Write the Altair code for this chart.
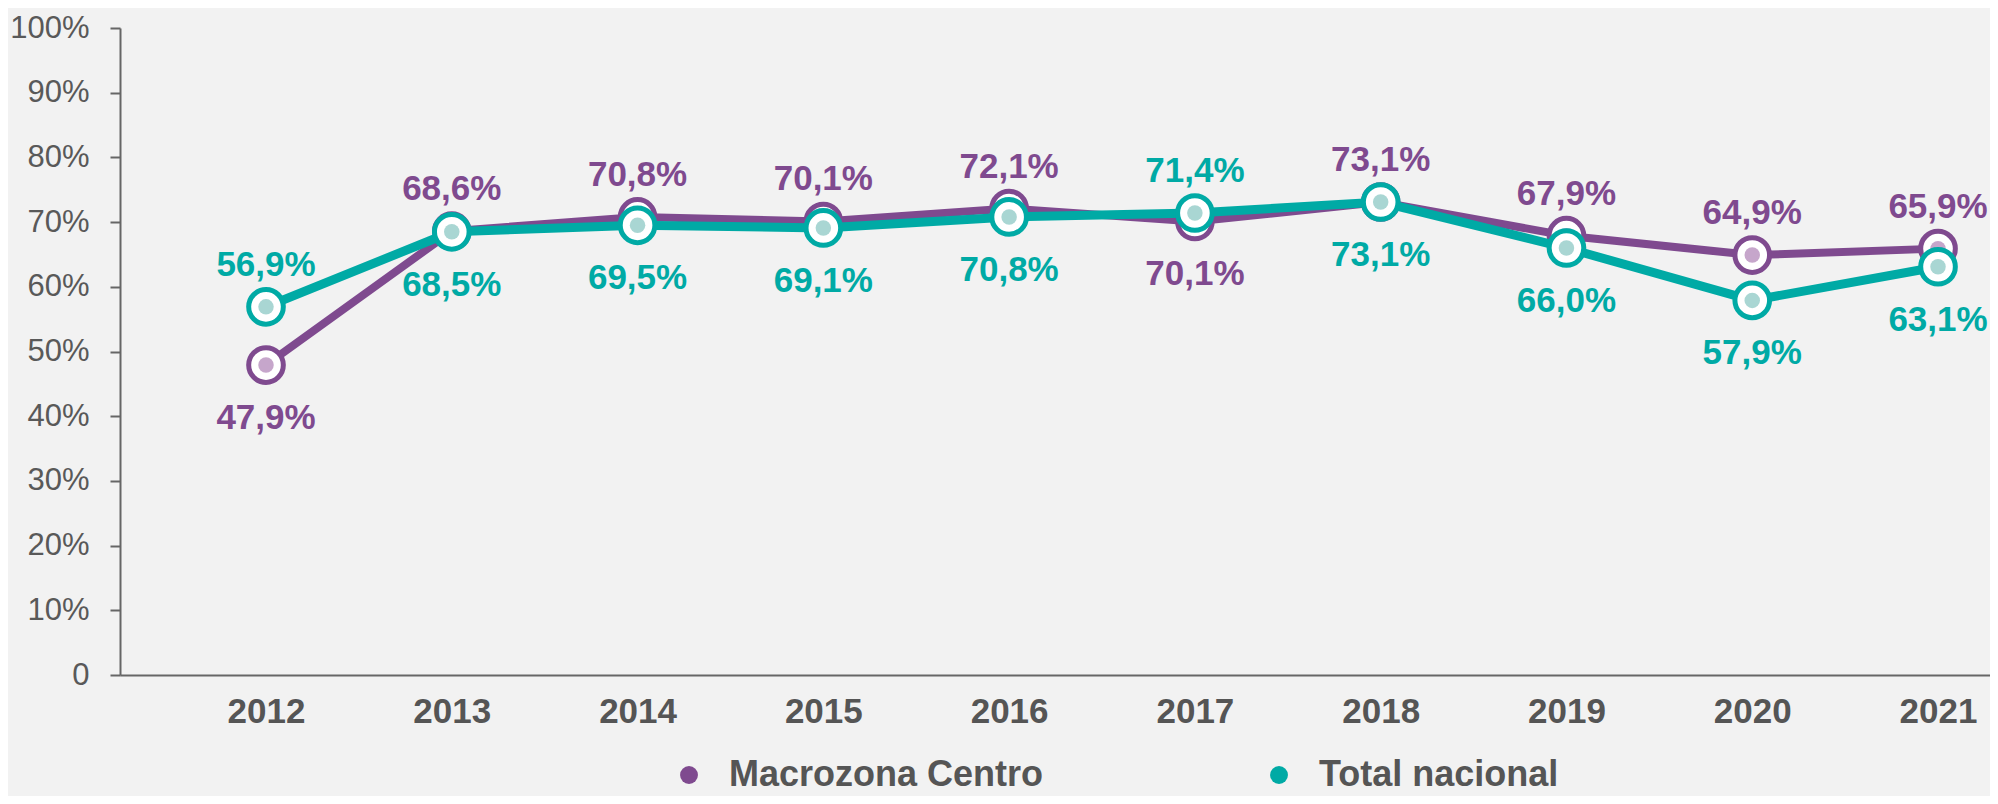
import altair as alt
import pandas as pd

years = [2012, 2013, 2014, 2015, 2016, 2017, 2018, 2019, 2020, 2021]
macrozona = [47.9, 68.6, 70.8, 70.1, 72.1, 70.1, 73.1, 67.9, 64.9, 65.9]
total = [56.9, 68.5, 69.5, 69.1, 70.8, 71.4, 73.1, 66.0, 57.9, 63.1]
series_names = ["Macrozona Centro", "Total nacional"]
y_ticks = [0, 10, 20, 30, 40, 50, 60, 70, 80, 90, 100]

PURPLE = "#7F4A8F"
TEAL = "#00AAA5"
PURPLE_LIGHT = "#C6A6CB"
TEAL_LIGHT = "#A9D6D3"
FONT = "Liberation Sans"

rows = []
for i, y in enumerate(years):
    m, t = macrozona[i], total[i]
    rows.append({"Año": y, "Valor": m, "Serie": series_names[0], "above": m >= t})
    rows.append({"Año": y, "Valor": t, "Serie": series_names[1], "above": t > m})
df = pd.DataFrame(rows)

x_enc = alt.X(
    "Año:Q",
    scale=alt.Scale(domain=[2011.2141, 2021.2798], nice=False, zero=False),
    axis=alt.Axis(
        values=years, format="d", ticks=False, grid=False, title=None,
        labelFont=FONT, labelFontWeight="bold", labelFontSize=35,
        labelColor="#555555", labelPadding=19, labelFlush=False, labelOverlap=False,
        domainColor="#666666", domainWidth=2,
    ),
)
y_enc = alt.Y(
    "Valor:Q",
    scale=alt.Scale(domain=[0, 100], nice=False),
    axis=alt.Axis(
        values=y_ticks, labelExpr="datum.value == 0 ? '0' : datum.value + '%'",
        grid=False, title=None, tickSize=10, tickWidth=2, tickColor="#666666",
        domainColor="#666666", domainWidth=2, labelFont=FONT, labelFontSize=31,
        labelColor="#595959", labelPadding=21, labelFlush=False,
    ),
)

base = alt.Chart(df).encode(x=x_enc, y=y_enc)

legend_layer = base.mark_circle(size=20, opacity=1).encode(
    color=alt.Color(
        "Serie:N",
        scale=alt.Scale(domain=series_names, range=[PURPLE, TEAL]),
        legend=alt.Legend(
            orient="none", legendX=551, legendY=729, direction="horizontal",
            title=None, symbolSize=320, symbolType="circle", symbolStrokeWidth=0,
            labelFont=FONT, labelFontSize=36, labelFontWeight="bold",
            labelColor="#555555", labelOffset=22, columnPadding=217,
            labelLimit=600, padding=0,
        ),
    )
)


def series_layers(name, color, light, width):
    d = base.transform_filter(alt.datum.Serie == name)
    line = d.mark_line(color=color, strokeWidth=width)
    ring = d.mark_point(filled=True, fill="white", stroke=color, strokeWidth=5,
                        size=1200, opacity=1)
    dot = d.mark_circle(color=light, size=240, opacity=1)
    return [line, ring, dot]


label_color = alt.condition(alt.datum.Serie == series_names[0],
                            alt.value(PURPLE), alt.value(TEAL))
labels = base.transform_calculate(
    txt="replace(format(datum.Valor, '.1f'), '.', ',') + '%'"
)
above = labels.transform_filter(alt.datum.above).mark_text(
    font=FONT, fontSize=35, fontWeight="bold", baseline="alphabetic", dy=-31
).encode(text="txt:N", color=label_color)
below = labels.transform_filter(~alt.datum.above).mark_text(
    font=FONT, fontSize=35, fontWeight="bold", baseline="alphabetic", dy=64
).encode(text="txt:N", color=label_color)

chart = alt.layer(
    legend_layer,
    *series_layers(series_names[0], PURPLE, PURPLE_LIGHT, 8),
    *series_layers(series_names[1], TEAL, TEAL_LIGHT, 9),
    above, below,
).properties(
    width=1870, height=647,
    autosize=alt.AutoSizeParams(type="none"),
    padding={"left": 112, "top": 20, "right": 0, "bottom": 121},
).configure(background="#F2F2F2").configure_view(stroke=None)

chart.save("out.html", embed_options={"renderer": "svg", "actions": False})
